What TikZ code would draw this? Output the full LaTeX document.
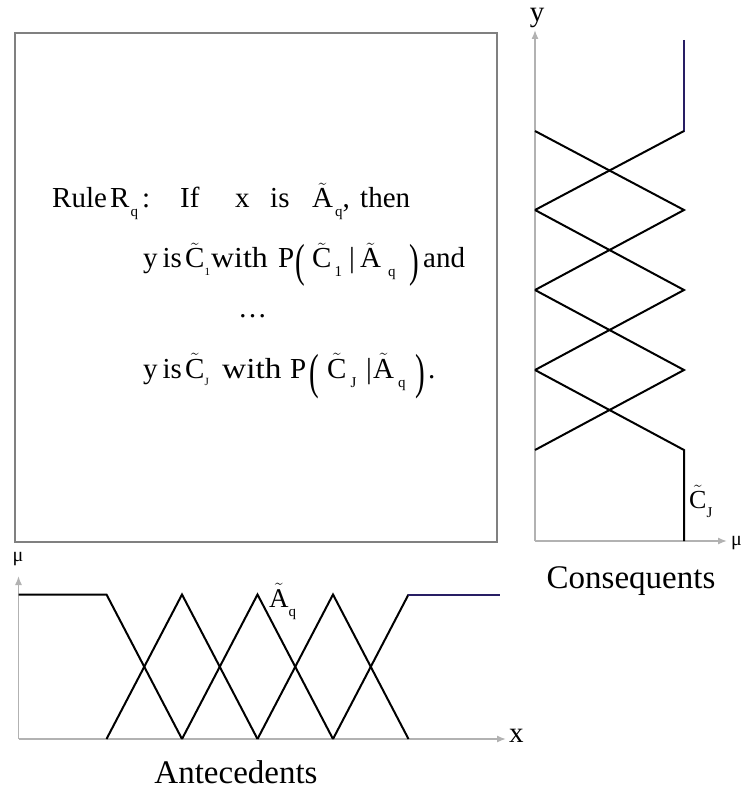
\documentclass[tikz,border=0pt]{standalone}
\usepackage{fontspec}
\setmainfont{Liberation Serif}
\usepackage{graphicx}
\usetikzlibrary{arrows.meta}
\newcommand\tld[1]{\ensuremath{\tilde{\mbox{#1}}}}
\newcommand\sbs[2][0pt]{\hspace{#1}\raisebox{-9pt}{\fontsize{15}{15}\selectfont #2}}
\newcommand\sbt[1]{\raisebox{-7pt}{\fontsize{11}{11}\selectfont #1}}
\newcommand\bpar[3]{\raisebox{#2}{\scalebox{1}[#3]{#1}}}
\begin{document}
\begin{tikzpicture}[x=1pt,y=-1pt,
  axisln/.style={draw=black!30, line width=1.4pt, -{Latex[length=9pt,width=7pt]}},
  mf/.style={draw=black, line width=2pt, line join=miter},
  mfb/.style={draw={rgb,255:red,40;green,30;blue,100}, line width=2pt},
  framebox/.style={draw=black!50, line width=1.8pt},
  rt/.style={anchor=base west, inner sep=0pt, font=\fontsize{29}{29}\selectfont},
  lbl/.style={inner sep=0pt, font=\fontsize{33}{33}\selectfont},
  axlbl/.style={inner sep=0pt, font=\fontsize{29}{29}\selectfont}
]
\useasboundingbox (0,0) rectangle (741,791);
% rule box
\draw[framebox] (15,33) rectangle (497,542);
% line 1
\node[rt] (a1) at (52,208) {Rule};
\node[rt] (a2) at (110,208) {R\sbs[1pt]{q}};
\node[rt] (a3) at (142,208) {:};
\node[rt] (a4) at (180,208) {If};
\node[rt] (a5) at (235,208) {x};
\node[rt] (a6) at (270,208) {is};
\node[rt] (a7) at (312,208) {\tld{A}\sbs[2pt]{q},};
\node[rt] (a8) at (360,208) {then};
% line 2
\node[rt] (b1) at (143,268) {y\,is};
\node[rt] (b3) at (185,268) {\tld{C}\sbt{1}};
\node[rt] (b4) at (211,268) {\scalebox{1.1}[1]{with}};
\node[rt] (b5) at (278,268) {P};
\node[rt] (b6) at (295,268) {\bpar{(}{-9pt}{1.6}};
\node[rt] (b7) at (312,268) {\tld{C}\sbs[3pt]{1}};
\node[rt] (b8) at (349,268) {|};
\node[rt] (b9) at (360,268) {\tld{A}\sbs[7pt]{q}};
\node[rt] (b10) at (409,268) {\bpar{)}{-9pt}{1.6}};
\node[rt] (b11) at (423,268) {and};
% line 3
\node[rt] (c1) at (238,317) {\dots};
% line 4
\node[rt] (d1) at (143,378) {y\,is};
\node[rt] (d3) at (185,378) {\tld{C}\sbt{J}};
\node[rt] (d4) at (222,378) {\scalebox{1.15}[1]{with}};
\node[rt] (d5) at (290,378) {P};
\node[rt] (d6) at (309,378) {\bpar{(}{-10pt}{1.7}};
\node[rt] (d7) at (327,378) {\tld{C}\sbs[4pt]{J}};
\node[rt] (d8) at (366,378) {|};
\node[rt] (d9) at (373,378) {\tld{A}\sbs[4pt]{q}};
\node[rt] (d10) at (415,378) {\bpar{)}{-10pt}{1.7}};
\node[rt] (d11) at (428,378) {.};
% antecedents axes
\coordinate (ao) at (18.5,739);
\coordinate (ay) at (18.5,576);
\coordinate (ax) at (506,739);
\draw[axisln] (ao) -- (ay);
\draw[axisln] (ao) -- (ax);
\node[inner sep=0pt, font=\fontsize{20}{20}\selectfont] (mu1) at (18,559) {μ};
\node[axlbl, anchor=west] (xl) at (509,736) {x};
\draw[mf] (18.5,594.5) -- (106.5,594.5) -- (182,739);
\draw[mf] (106.5,739) -- (182,594.5) -- (257.5,739);
\draw[mf] (182,739) -- (257.5,594.5) -- (333,739);
\draw[mf] (257.5,739) -- (333,594.5) -- (408.5,739);
\draw[mf] (333,739) -- (408.5,594.5);
\draw[mfb] (407.5,594.5) -- (500,594.5);
\node[anchor=base west, inner sep=0pt, font=\fontsize{27}{27}\selectfont] (aq) at (269,607) {\tld{A}\sbs{q}};
\node[lbl, anchor=base] (ant) at (236,783) {Antecedents};
% consequents axes
\coordinate (co) at (535,541);
\coordinate (cy) at (535,30);
\coordinate (cx) at (727,541);
\draw[axisln] (co) -- (cy);
\draw[axisln] (co) -- (cx);
\node[axlbl, anchor=base, text height=13pt] (yl) at (537,22) {y};
\node[inner sep=0pt, font=\fontsize{20}{20}\selectfont, anchor=west] (mu2) at (731,543) {μ};
\draw[mfb] (684,40) -- (684,132);
\draw[mf] (684,131) -- (535,210);
\draw[mf] (535,131) -- (684,210) -- (535,290);
\draw[mf] (535,210) -- (684,290) -- (535,370);
\draw[mf] (535,290) -- (684,370) -- (535,450);
\draw[mf] (535,370) -- (684,450) -- (684,541);
\node[anchor=base west, inner sep=0pt, font=\fontsize{26}{26}\selectfont] (cj) at (689,508) {\tld{C}\sbs{J}};
\node[lbl, anchor=base] (con) at (631,588) {Consequents};
\end{tikzpicture}
\end{document}
